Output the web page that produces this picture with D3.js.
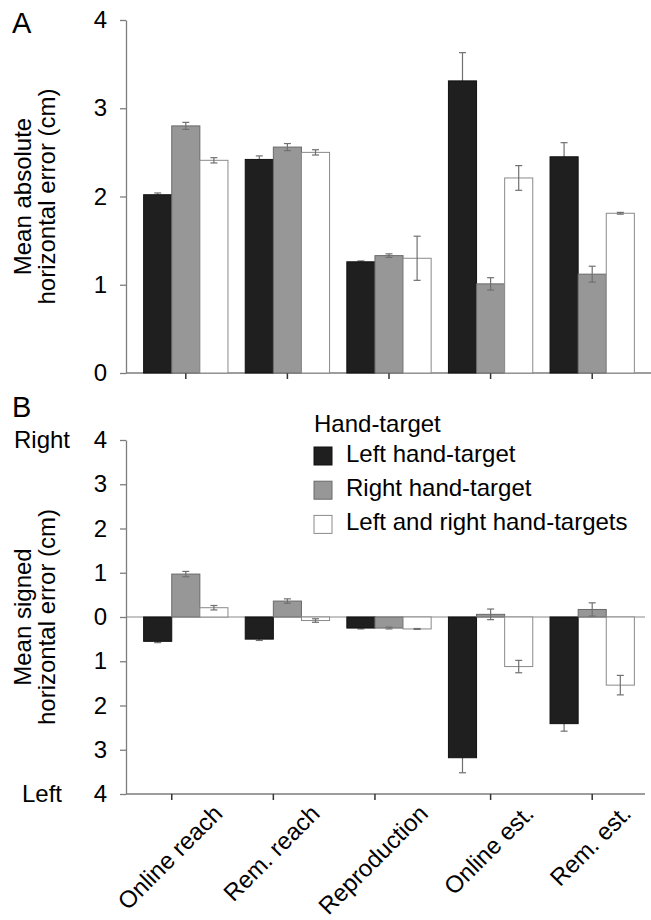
<!DOCTYPE html>
<html lang="en">
<head>
<meta charset="UTF-8">
<title>Horizontal error by task and hand-target</title>
<script src="https://d3js.org/d3.v7.min.js"></script>
<style>
  body { margin: 0; background: #fff; }
  svg { display: block; font-family: "Liberation Sans", Arial, sans-serif; }
</style>
</head>
<body>
<svg width="651" height="920"></svg>
<script>
  const tasks = ["Online reach", "Rem. reach", "Reproduction", "Online est.", "Rem. est."];
  const handTargets = ["Left hand-target", "Right hand-target", "Left and right hand-targets"];

  // A: mean absolute horizontal error (cm) and SE
  const absLeft = [2.02, 2.42, 1.26, 3.31, 2.45];
  const absLeftErr = [0.02, 0.04, 0.01, 0.32, 0.16];
  const absRight = [2.80, 2.56, 1.33, 1.01, 1.12];
  const absRightErr = [0.04, 0.04, 0.02, 0.07, 0.09];
  const absBoth = [2.41, 2.50, 1.30, 2.21, 1.81];
  const absBothErr = [0.03, 0.03, 0.25, 0.14, 0.01];

  // B: mean signed horizontal error (cm), right positive
  const signedLeft = [-0.55, -0.50, -0.25, -3.18, -2.41];
  const signedLeftErr = [0.03, 0.03, 0.02, 0.34, 0.17];
  const signedRight = [0.97, 0.36, -0.25, 0.06, 0.17];
  const signedRightErr = [0.06, 0.05, 0.02, 0.12, 0.15];
  const signedBoth = [0.21, -0.08, -0.27, -1.12, -1.54];
  const signedBothErr = [0.05, 0.04, 0.01, 0.14, 0.22];

  const ticksA = [0, 1, 2, 3, 4];
  const ticksB = [-4, -3, -2, -1, 0, 1, 2, 3, 4];

  const fills = ["#1f1f1f", "#979797", "#ffffff"];
  const strokes = ["#111111", "#6a6a6a", "#8a8a8a"];
  const axisColor = "#7d7d7d";
  const errColor = "#707070";
  const fontSize = 24;

  const svg = d3.select("svg");

  const x0 = d3.scaleBand().domain(tasks).range([135, 643]).paddingInner(0.17).paddingOuter(0.085);
  const x1 = d3.scaleBand().domain(handTargets).range([0, x0.bandwidth()]);
  const color = d3.scaleOrdinal().domain(handTargets).range(fills);
  const outline = d3.scaleOrdinal().domain(handTargets).range(strokes);

  const yA = d3.scaleLinear().domain([0, 4]).range([373, 20]);
  const yB = d3.scaleLinear().domain([-4, 4]).range([794, 440]);

  function rowsOf(vals, errs) {
    return handTargets.map((k, i) => tasks.map((t, j) => ({ task: t, key: k, v: vals[i][j], e: errs[i][j] })));
  }

  function drawBars(g, y, rows) {
    rows.forEach((row, i) => {
      const s = g.append("g");
      const bars = () => s.selectAll("rect.bar").data(row).join("rect")
        .attr("class", "bar")
        .attr("x", d => x0(d.task) + x1(d.key))
        .attr("width", x1.bandwidth())
        .attr("y", d => y(Math.max(0, d.v)))
        .attr("height", d => Math.abs(y(d.v) - y(0)))
        .attr("fill", d => color(d.key))
        .attr("stroke", d => outline(d.key))
        .attr("stroke-width", 1);
      const errs = () => {
        const eb = s.selectAll("g.err").data(row).join("g").attr("class", "err")
          .attr("stroke", errColor).attr("stroke-width", 1.2);
        const cx = d => x0(d.task) + x1(d.key) + x1.bandwidth() / 2;
        eb.append("line").attr("x1", cx).attr("x2", cx)
          .attr("y1", d => y(d.v - d.e)).attr("y2", d => y(d.v + d.e));
        [-1, 1].forEach(sg => {
          eb.append("line").attr("x1", d => cx(d) - 3.5).attr("x2", d => cx(d) + 3.5)
            .attr("y1", d => y(d.v + sg * d.e)).attr("y2", d => y(d.v + sg * d.e));
        });
      };
      // black bars hide the inner half of their error bars
      if (i === 0) { errs(); bars(); } else { bars(); errs(); }
    });
  }

  function styleAxis(ax) {
    ax.select(".domain").attr("stroke", axisColor).attr("stroke-width", 1.3);
    ax.selectAll(".tick line").attr("stroke", axisColor).attr("stroke-width", 1.3);
    ax.selectAll(".tick text").attr("fill", "#000").style("font-size", fontSize + "px");
  }

  function yTitle(lines, cy) {
    const xs = [31, 55];
    lines.forEach((t, i) => {
      svg.append("text")
        .attr("transform", `translate(${xs[i]},${cy}) rotate(-90)`)
        .attr("text-anchor", "middle")
        .style("font-size", fontSize + "px")
        .text(t);
    });
  }

  // ---------- Panel A ----------
  const gA = svg.append("g");
  gA.append("line").attr("x1", 126).attr("x2", 651).attr("y1", yA(0)).attr("y2", yA(0))
    .attr("stroke", axisColor).attr("stroke-width", 1.3);
  gA.selectAll("line.xt").data(tasks).join("line").attr("class", "xt")
    .attr("x1", d => x0(d) + x0.bandwidth() / 2).attr("x2", d => x0(d) + x0.bandwidth() / 2)
    .attr("y1", yA(0)).attr("y2", yA(0) + 6)
    .attr("stroke", "#333").attr("stroke-width", 1.5);

  drawBars(gA, yA, rowsOf([absLeft, absRight, absBoth], [absLeftErr, absRightErr, absBothErr]));

  const axA = gA.append("g").attr("transform", "translate(126,0)")
    .call(d3.axisLeft(yA).tickValues(ticksA).tickSize(6).tickSizeOuter(0).tickPadding(13).tickFormat(d3.format("d")));
  styleAxis(axA);

  svg.append("text").attr("x", 12).attr("y", 33).style("font-size", "29px").text("A");
  yTitle(["Mean absolute", "horizontal error (cm)"], (yA(0) + yA(4)) / 2);

  // ---------- Panel B ----------
  const gB = svg.append("g");
  gB.append("line").attr("x1", 126).attr("x2", 645).attr("y1", yB(-4)).attr("y2", yB(-4))
    .attr("stroke", axisColor).attr("stroke-width", 1.3);
  gB.append("line").attr("x1", 126).attr("x2", 645).attr("y1", yB(0)).attr("y2", yB(0))
    .attr("stroke", "#8a8a8a").attr("stroke-width", 1.2);

  // tick positions in B sit left of the group centre for the first three tasks, as in the source figure
  const tickFrac = [1 / 3, 1 / 3, 1 / 3, 1 / 2, 1 / 2];
  const tickX = (d, i) => x0(d) + x0.bandwidth() * tickFrac[i];
  gB.selectAll("line.xt").data(tasks).join("line").attr("class", "xt")
    .attr("x1", tickX).attr("x2", tickX)
    .attr("y1", yB(-4)).attr("y2", yB(-4) + 6)
    .attr("stroke", "#333").attr("stroke-width", 1.5);

  drawBars(gB, yB, rowsOf([signedLeft, signedRight, signedBoth], [signedLeftErr, signedRightErr, signedBothErr]));

  const axB = gB.append("g").attr("transform", "translate(126,0)")
    .call(d3.axisLeft(yB).tickValues(ticksB).tickSize(6).tickSizeOuter(0).tickPadding(13).tickFormat(d => Math.abs(d)));
  styleAxis(axB);

  svg.append("text").attr("x", 42).attr("y", yB(4)).attr("dy", "0.35em")
    .attr("text-anchor", "middle").style("font-size", fontSize + "px").text("Right");
  svg.append("text").attr("x", 42).attr("y", yB(-4)).attr("dy", "0.35em")
    .attr("text-anchor", "middle").style("font-size", fontSize + "px").text("Left");

  svg.append("text").attr("x", 12).attr("y", 417).style("font-size", "29px").text("B");
  yTitle(["Mean signed", "horizontal error (cm)"], yB(0));

  // task labels, rotated, centred under panel B ticks
  gB.selectAll("text.xl").data(tasks).join("text").attr("class", "xl")
    .style("font-size", fontSize + "px")
    .attr("text-anchor", "end")
    .text(d => d)
    .attr("transform", function (d, i) {
      const L = this.getComputedTextLength();
      return `translate(${tickX(d, i) + L * 0.354 + 4},815) rotate(-45)`;
    });

  // legend
  const legend = svg.append("g").attr("transform", "translate(314,0)");
  legend.append("text").attr("x", 0).attr("y", 432).style("font-size", fontSize + "px").text("Hand-target");
  handTargets.forEach((k, i) => {
    const row = legend.append("g").attr("transform", `translate(0,${447 + i * 34.2})`);
    row.append("rect").attr("width", 18).attr("height", 18)
      .attr("fill", color(k)).attr("stroke", outline(k)).attr("stroke-width", 1);
    row.append("text").attr("x", 32).attr("y", 15).style("font-size", fontSize + "px").text(k);
  });
</script>
</body>
</html>
